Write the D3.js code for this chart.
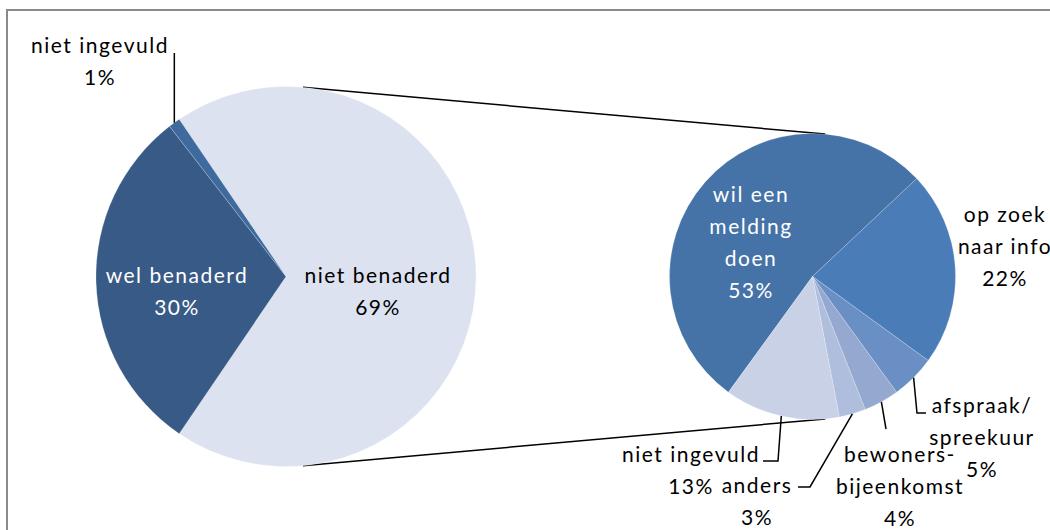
<!DOCTYPE html>
<meta charset="utf-8">
<style>
  body { margin: 0; background: #fff; }
  text { font-family: Lato, "Open Sans", sans-serif; font-size: 21px; letter-spacing: 1.5px; }
  .leader { fill: none; stroke: #000; stroke-width: 1.5px; }
</style>
<svg width="1050" height="530"></svg>
<script src="https://d3js.org/d3.v7.min.js"></script>
<script>

var mainNames = [["niet benaderd"], ["wel benaderd"], ["niet ingevuld"]];
var mainValues = [69, 30, 1];
var mainColors = ["#dce2ef", "#375a86", "#3e6a9d"];

var subNames = [["wil een", "melding", "doen"], ["op zoek", "naar info"], ["afspraak/", "spreekuur"],
    ["bewoners-", "bijeenkomst"], ["anders"], ["niet ingevuld"]];
var subValues = [53, 22, 5, 4, 3, 13];
var subColors = ["#4573a7", "#4a7cb8", "#6a8fc4", "#94a8d0", "#aebedc", "#c8d1e6"];

// layout
var svg = d3.select("svg");
var cy = 276.5;
var left = {cx: 286, r: 190}, right = {cx: 812.5, r: 143};
var lineH = 32;
var deg = Math.PI / 180;

// label boxes: center x, first baseline, colour, leader bend points
var mainLabels = [
    {x: 378, y: 283, fill: "#000"},
    {x: 177, y: 283, fill: "#fff"},
    {x: 100, y: 53, fill: "#000", lead: "up"}
];
var subLabels = [
    {x: 751, y: 202, fill: "#fff"},
    {x: 1005, y: 222, fill: "#000"},
    {x: 982, y: 413, fill: "#000", lead: [[917, 413], [926, 413]]},
    {x: 900, y: 462, fill: "#000", lead: [[886, 429]]},
    {x: 757, y: 493, fill: "#000", lead: [[810, 487], [798, 487]]},
    {x: 691, y: 462, fill: "#000", lead: [[778, 461], [763, 461]]}
];

svg.append("rect")
    .attr("x", 7).attr("y", 10)
    .attr("width", 1100).attr("height", 600)
    .attr("fill", "none")
    .attr("stroke", "#8a8a8a")
    .attr("stroke-width", 2);

// connector lines (outer tangents of the two circles)
var a = Math.asin((left.r - right.r) / (right.cx - left.cx));
[a, Math.PI - a].forEach(function (t) {
    svg.append("line")
        .attr("x1", left.cx + left.r * Math.sin(t))
        .attr("y1", cy - left.r * Math.cos(t))
        .attr("x2", right.cx + right.r * Math.sin(t))
        .attr("y2", cy - right.r * Math.cos(t))
        .attr("stroke", "#000")
        .attr("stroke-width", 1.5);
});

function drawPie(p, values, names, colors, labels, start) {
    var pie = d3.pie().sort(null).startAngle(start).endAngle(start + 2 * Math.PI);
    var arc = d3.arc().innerRadius(0).outerRadius(p.r);
    var arcs = pie(values);
    var g = svg.append("g").attr("transform", "translate(" + p.cx + "," + cy + ")");

    g.selectAll("path")
        .data(arcs)
        .enter().append("path")
        .attr("d", arc)
        .attr("fill", function (d, i) { return colors[i]; })
        .attr("stroke", "#fff")
        .attr("stroke-opacity", 0.35)
        .attr("stroke-width", 0.6);

    arcs.forEach(function (d, i) {
        var lab = labels[i];
        var m = (d.startAngle + d.endAngle) / 2;
        var ex = p.cx + p.r * Math.sin(m), ey = cy - p.r * Math.cos(m);
        if (lab.lead === "up") {
            svg.append("path").attr("class", "leader")
                .attr("d", d3.line()([[ex, ey], [ex, lab.y]]));
        } else if (lab.lead) {
            svg.append("path").attr("class", "leader")
                .attr("d", d3.line()([[ex, ey]].concat(lab.lead)));
        }
        var lines = names[i].concat([values[i] + "%"]);
        var t = svg.append("text")
            .attr("text-anchor", "middle")
            .attr("fill", lab.fill);
        lines.forEach(function (s, k) {
            t.append("tspan")
                .attr("x", lab.x)
                .attr("y", lab.y + k * lineH)
                .text(s);
        });
    });
}

drawPie(left, mainValues, mainNames, mainColors, mainLabels, (90 - mainValues[0] * 1.8) * deg);
drawPie(right, subValues, subNames, subColors, subLabels, -144 * deg);

</script>
